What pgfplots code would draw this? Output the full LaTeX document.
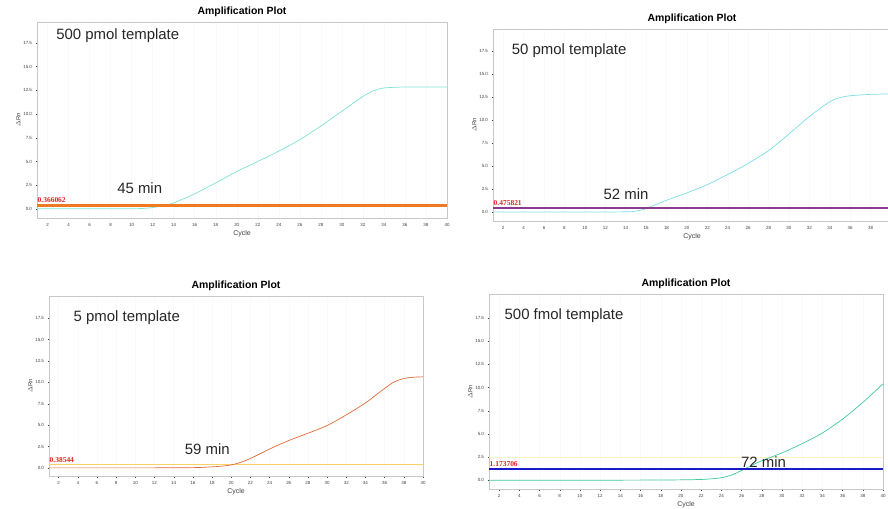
\documentclass[border=0pt]{standalone}
\usepackage{pgfplots}
\pgfplotsset{compat=1.18}
\usepackage{fontspec}
\setmainfont{Liberation Sans}
\newfontfamily\serifb{Liberation Serif}
\definecolor{frame}{HTML}{C8C8C8}
\definecolor{tickc}{HTML}{404040}
\definecolor{aqua1}{HTML}{7FE3D2}
\definecolor{aqua2}{HTML}{7CDDE6}
\definecolor{orng}{HTML}{F07A22}
\definecolor{purp}{HTML}{8A3C8C}
\definecolor{redc}{HTML}{E06A38}
\definecolor{yell}{HTML}{F8D264}
\definecolor{grn}{HTML}{3FC7A0}
\definecolor{blu}{HTML}{1A1AC8}
\definecolor{faintyel}{HTML}{FFF2C0}
\definecolor{thr}{HTML}{E02020}
\tikzset{
  big/.style={font=\fontsize{15}{17}\selectfont, anchor=west, text=black!85},
  thl/.style={font=\fontsize{7.5}{8}\selectfont\serifb\bfseries, text=thr, anchor=south west, inner sep=0.5pt},
}
\pgfplotsset{
  amp/.style={
    scale only axis,
    anchor=south west,
    xmin=1, xmax=40, ymin=-0.95,
    xtick={2,4,...,40},
    ytick={0,2.5,...,17.5},
    axis line style={frame},
    tick style={tickc, line width=0.3pt},
    tick align=outside,
    major tick length=1.5pt,
    xtick pos=bottom, ytick pos=left,
    tick label style={font=\fontsize{4.5}{5}\selectfont, text=tickc},
    yticklabel style={/pgf/number format/.cd, fixed, fixed zerofill, precision=1},
    /pgf/number format/assume math mode=true,
    xlabel={Cycle}, ylabel={$\Delta$Rn},
    xlabel style={font=\fontsize{7}{8}\selectfont, text=tickc, yshift=3pt},
    ylabel style={font=\fontsize{6}{7}\selectfont, text=tickc, yshift=-4pt},
    title style={font=\fontsize{10.5}{12}\selectfont\bfseries, yshift=-4pt},
    title={Amplification Plot},
    xmajorgrids, grid style={gray!4},
  },
}
\begin{document}
\begin{tikzpicture}
\useasboundingbox (0,0) rectangle (888bp,-509bp);
% Panel 1
\begin{axis}[amp, at={(37bp,-218bp)}, width=410bp, height=196bp, ymax=19.7]
\addplot[aqua1, line width=0.7pt, smooth, tension=0.5] coordinates {
(1,0.02) (4,0.02) (8,0.02) (10,0.03) (11,0.05) (12,0.15) (13,0.35) (14,0.65) (16,1.6) (18,2.75) (20,3.95) (22,5.0) (24,6.1) (26,7.3) (28,8.75) (30,10.3) (32,11.85) (33,12.45) (34,12.75) (36,12.85) (38,12.85) (40,12.85)};
\addplot[orng, line width=2.2pt] coordinates {(1,0.366062) (40,0.366062)};
\node[thl] at (axis cs:1,0.55) {0.366062};
\node[big] at (axis cs:2.5,18.3) {500 pmol template};
\node[big] at (axis cs:8.3,2.2) {45 min};
\end{axis}
% Panel 2
\begin{axis}[amp, at={(493bp,-221bp)}, width=398bp, height=192bp, ymax=19.9]
\addplot[aqua2, line width=0.7pt, smooth, tension=0.5] coordinates {
(1,0.02) (6,0.02) (10,0.02) (14,0.05) (15,0.12) (16,0.4) (18,1.3) (20,2.1) (22,3.0) (24,4.1) (26,5.3) (28,6.7) (30,8.5) (32,10.4) (34,12.0) (35,12.45) (36,12.65) (38,12.8) (40,12.85)};
\addplot[purp, line width=1.8pt] coordinates {(1,0.475821) (40,0.475821)};
\node[thl] at (axis cs:1,0.7) {0.475821};
\node[big] at (axis cs:2.5,17.6) {50 pmol template};
\node[big] at (axis cs:11.5,2.0) {52 min};
\end{axis}
% Panel 3
\begin{axis}[amp, at={(49bp,-476bp)}, width=374bp, height=180bp, ymax=20.1]
\addplot[yell, line width=1.6pt] coordinates {(1,0.38544) (40,0.38544)};
\addplot[redc, line width=0.7pt, smooth, tension=0.5] coordinates {
(1,0.0) (6,0.0) (10,0.0) (14,0.01) (16,0.03) (17,0.06) (18,0.12) (19,0.2) (20,0.35) (21,0.65) (22,1.1) (24,2.2) (26,3.2) (28,4.05) (30,4.95) (32,6.2) (34,7.6) (36,9.3) (37,10.05) (38,10.45) (39,10.6) (40,10.65)};
\node[thl] at (axis cs:1,0.55) {0.38544};
\node[big] at (axis cs:3.2,17.6) {5 pmol template};
\node[big] at (axis cs:14.8,2.2) {59 min};
\end{axis}
% Panel 4
\begin{axis}[amp, at={(489bp,-489bp)}, width=394bp, height=195bp, ymax=20.1]
\addplot[faintyel, line width=0.8pt] coordinates {(1,2.45) (40,2.45)};
\addplot[grn, line width=0.7pt, smooth, tension=0.5] coordinates {
(1,0.0) (6,0.0) (12,0.0) (18,0.02) (20,0.04) (22,0.08) (23,0.15) (24,0.27) (25,0.55) (26,1.05) (27,1.6) (28,2.1) (30,2.95) (32,3.95) (34,5.1) (36,6.6) (38,8.4) (40,10.4)};
\addplot[blu, line width=1.8pt] coordinates {(1,1.173706) (40,1.173706)};
\node[thl] at (axis cs:1,1.4) {1.173706};
\node[big] at (axis cs:2.2,17.8) {500 fmol template};
\node[big] at (axis cs:25.6,2.0) {72 min};
\end{axis}
\end{tikzpicture}
\end{document}
